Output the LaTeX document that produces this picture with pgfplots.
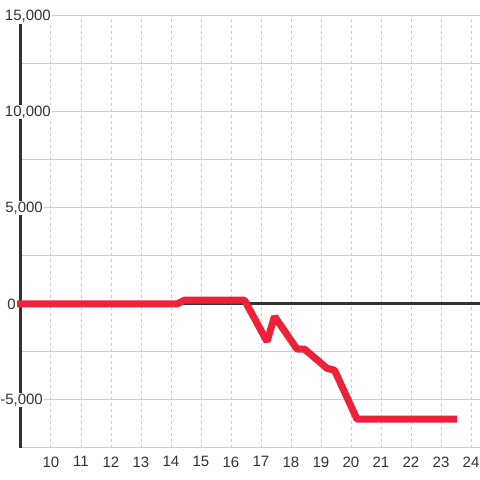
\documentclass[border=0pt]{standalone}
\usepackage{fontspec}
\setmainfont{Liberation Sans}
\usepackage{pgfplots}
\pgfplotsset{compat=1.18}
\definecolor{redline}{RGB}{237,34,56}
\definecolor{darkax}{RGB}{51,51,51}
\definecolor{txt}{RGB}{51,51,51}
\definecolor{gridc}{RGB}{204,204,204}
\begin{document}
\begin{tikzpicture}
\useasboundingbox[fill=white] (-21pt,-32pt) rectangle (459pt,448pt);
\begin{axis}[
  at={(0,0)}, anchor=south west,
  scale only axis, width=459pt, height=432pt,
  xmin=9, xmax=24.3, ymin=-7500, ymax=15000,
  axis line style={draw=none},
  clip=false,
  scaled y ticks=false,
  xtick={10,...,24},
  xticklabels={10,11,12,13,14,15,16,17,18,19,20,21,22,23,24},
  ytick={-7500,-5000,-2500,2500,5000,7500,10000,12500,15000},
  yticklabels={},
  major tick length=0pt,
  xmajorgrids, ymajorgrids,
  x grid style={gridc, line width=1pt, dash pattern=on 3pt off 3pt},
  y grid style={gridc, line width=1pt},
  every tick label/.append style={font=\fontsize{15}{18}\selectfont, text=txt},
  xticklabel style={yshift=-5pt},
]
\draw[line width=3pt, darkax] (axis cs:9,-7500) -- (axis cs:9,14583);
\draw[line width=3pt, darkax] (axis cs:9,0) -- (axis cs:24.3,0);
\addplot[redline, line width=7pt, line join=bevel] coordinates {
(8.87,0) (14.2,0) (14.45,200) (16.45,200) (17.2,-1950) (17.45,-650)
(18.2,-2350) (18.45,-2350) (19.2,-3350) (19.45,-3450) (20.2,-6000) (23.53,-6000)
};
\tikzset{ylab/.style={anchor=east, fill=white, inner sep=1pt, text=txt, font=\fontsize{15}{18}\selectfont}}
\node[ylab, xshift=31pt] at (axis cs:9,15000) {15,000};
\node[ylab, xshift=31pt] at (axis cs:9,10000) {10,000};
\node[ylab, xshift=23pt] at (axis cs:9,5000) {5,000};
\node[ylab, xshift=-4pt] at (axis cs:9,0) {0};
\node[ylab, xshift=23pt] at (axis cs:9,-5000) {-5,000};
\end{axis}
\end{tikzpicture}
\end{document}
